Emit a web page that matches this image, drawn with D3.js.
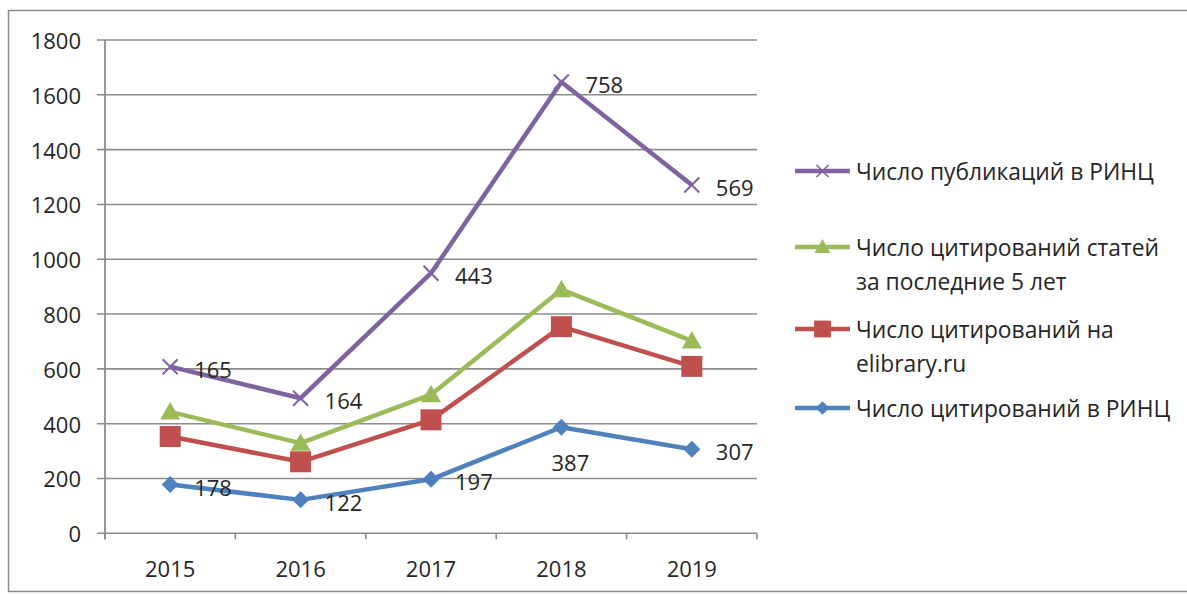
<!DOCTYPE html>
<html lang="ru">
<head>
<meta charset="utf-8">
<script src="https://cdn.jsdelivr.net/npm/d3@7"></script>
<style>
  html, body { margin: 0; padding: 0; background: #fff; }
  svg { display: block; }
  text { font-family: "Open Sans", "Noto Sans", sans-serif; fill: #262626; }
</style>
</head>
<body>
<svg id="chart" width="1187" height="594"></svg>
<script>
// Years along the category axis
const years = ["2015", "2016", "2017", "2018", "2019"];

// Series values (stacked lines, bottom to top)
const citationsRinc     = [178, 122, 197, 387, 307];
const citationsElibrary = [175, 139, 217, 367, 302];
const citationsFiveYear = [90, 68, 92, 135, 93];
const publicationsRinc  = [165, 164, 443, 758, 569];

// Value axis ticks
const yTicks = [0, 200, 400, 600, 800, 1000, 1200, 1400, 1600, 1800];

const seriesKeys = ["rinc", "elib", "five", "pub"];
const seriesNames = {
  pub: ["Число публикаций в РИНЦ"],
  five: ["Число цитирований статей", "за последние 5 лет"],
  elib: ["Число цитирований на", "elibrary.ru"],
  rinc: ["Число цитирований в РИНЦ"]
};
const colors = { rinc: "#4f81bd", elib: "#c0504d", five: "#9bbb59", pub: "#7f63a1" };

const rows = years.map((y, i) => ({
  year: y,
  rinc: citationsRinc[i],
  elib: citationsElibrary[i],
  five: citationsFiveYear[i],
  pub: publicationsRinc[i]
}));

const stacked = d3.stack().keys(seriesKeys)(rows);

const svg = d3.select("#chart");

// chart frame
svg.append("rect")
  .attr("x", 8.5).attr("y", 10.5)
  .attr("width", 1200).attr("height", 581)
  .attr("fill", "#fff").attr("stroke", "#8a8a8a").attr("stroke-width", 1.5);

const plot = { left: 105, right: 757, top: 40, bottom: 533.3 };

const x = d3.scaleBand().domain(years).range([plot.left, plot.right]);
const y = d3.scaleLinear().domain([0, 1800]).range([plot.bottom, plot.top]);
const cx = d => x(d) + x.bandwidth() / 2;

// horizontal gridlines with left ticks
const grid = svg.append("g");
grid.selectAll("line").data(yTicks).join("line")
  .attr("x1", plot.left - 8).attr("x2", plot.right)
  .attr("y1", d => y(d)).attr("y2", d => y(d))
  .attr("stroke", "#8c8c8c").attr("stroke-width", 1.6);

// y tick labels
svg.append("g").selectAll("text").data(yTicks).join("text")
  .attr("x", 81).attr("y", d => y(d))
  .attr("text-anchor", "end").attr("dominant-baseline", "central")
  .attr("font-size", 22)
  .text(d => d);

// vertical axis
svg.append("line")
  .attr("x1", plot.left).attr("x2", plot.left)
  .attr("y1", plot.top).attr("y2", plot.bottom + 6)
  .attr("stroke", "#8c8c8c").attr("stroke-width", 1.8);

// category axis ticks at band edges
const edges = years.map(d => x(d)).concat([plot.right]);
svg.append("g").selectAll("line").data(edges).join("line")
  .attr("x1", d => d).attr("x2", d => d)
  .attr("y1", plot.bottom).attr("y2", plot.bottom + 6)
  .attr("stroke", "#8c8c8c").attr("stroke-width", 1.6);

svg.append("g").selectAll("text").data(years).join("text")
  .attr("x", d => cx(d)).attr("y", 568)
  .attr("text-anchor", "middle").attr("dominant-baseline", "central")
  .attr("font-size", 22)
  .text(d => d);

// marker shapes
function drawMarker(g, key, px, py, scale) {
  const c = colors[key];
  const s = scale || 1;
  if (key === "rinc") {
    const r = 8.5 * s;
    g.append("path")
      .attr("d", `M${px},${py - r}L${px + r},${py}L${px},${py + r}L${px - r},${py}Z`)
      .attr("fill", c);
  } else if (key === "elib") {
    const h = 10.5 * s;
    g.append("rect")
      .attr("x", px - h).attr("y", py - h).attr("width", 2 * h).attr("height", 2 * h)
      .attr("fill", c);
  } else if (key === "five") {
    const h = 10 * s;
    g.append("path")
      .attr("d", `M${px},${py - h}L${px + h},${py + h * 0.75}L${px - h},${py + h * 0.75}Z`)
      .attr("fill", c);
  } else {
    const h = 7.5 * s;
    g.append("path")
      .attr("d", `M${px - h},${py - h}L${px + h},${py + h}M${px + h},${py - h}L${px - h},${py + h}`)
      .attr("stroke", c).attr("stroke-width", 2 * s).attr("fill", "none");
  }
}

const line = d3.line()
  .x(d => cx(d.data.year))
  .y(d => y(d[1]));

const series = svg.append("g");
stacked.forEach(layer => {
  const key = layer.key;
  const g = series.append("g");
  g.append("path")
    .attr("d", line(layer))
    .attr("fill", "none")
    .attr("stroke", colors[key])
    .attr("stroke-width", 4.5)
    .attr("stroke-linejoin", "round");
  layer.forEach(d => drawMarker(g, key, cx(d.data.year), y(d[1])));
});

// value labels for the bottom and top series
const labelled = stacked.filter(l => l.key === "rinc" || l.key === "pub");
const labels = svg.append("g");
labelled.forEach(layer => {
  layer.forEach(d => {
    const px = cx(d.data.year), py = y(d[1]);
    const val = d.data[layer.key];
    const below = layer.key === "rinc" && d.data.year === "2018";
    labels.append("text")
      .attr("x", below ? px + 9 : px + 24)
      .attr("y", below ? py + 35 : py + 2)
      .attr("text-anchor", below ? "middle" : "start")
      .attr("dominant-baseline", "central")
      .attr("font-size", 22)
      .text(val);
  });
});

// legend
const legendRows = [
  { key: "pub", y: 171 },
  { key: "five", y: 247 },
  { key: "elib", y: 329 },
  { key: "rinc", y: 408 }
];
const legend = svg.append("g");
legendRows.forEach(r => {
  legend.append("line")
    .attr("x1", 795).attr("x2", 850)
    .attr("y1", r.y).attr("y2", r.y)
    .attr("stroke", colors[r.key]).attr("stroke-width", 4.5);
  drawMarker(legend, r.key, 822.5, r.y, 0.8);
  seriesNames[r.key].forEach((t, i) => {
    legend.append("text")
      .attr("x", 856).attr("y", r.y + i * 34)
      .attr("dominant-baseline", "central")
      .attr("font-size", 22.8)
      .text(t);
  });
});
</script>
</body>
</html>
